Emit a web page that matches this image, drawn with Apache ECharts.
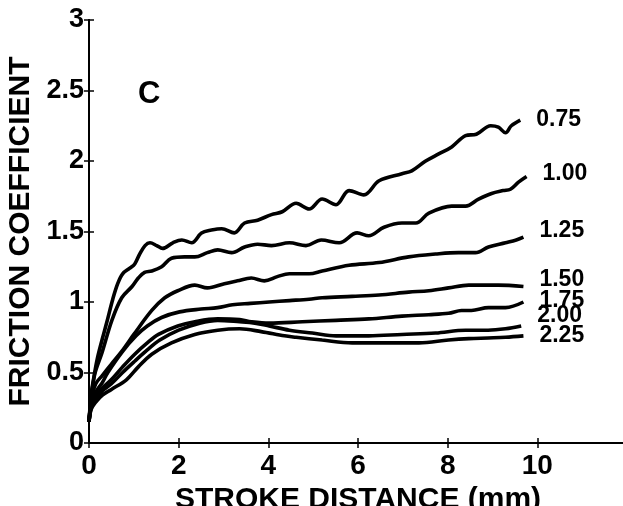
<!DOCTYPE html>
<html>
<head>
<meta charset="utf-8">
<script src="https://cdn.jsdelivr.net/npm/echarts@6/dist/echarts.min.js"></script>
<style>html,body{margin:0;padding:0;background:#fff}#c{width:623px;height:506px}</style>
</head>
<body>
<div id="c"></div>
<script>
// ---- data ----
var seriesNames = ['0.75', '1.00', '1.25', '1.50', '1.75', '2.00', '2.25'];
var xTicks = [0, 2, 4, 6, 8, 10];
var yTicks = [0, 0.5, 1, 1.5, 2, 2.5, 3];

var s075 = [[0,0.15],[0.05,0.35],[0.1,0.45],[0.18,0.59],[0.29,0.73],[0.4,0.86],[0.53,1.02],[0.64,1.13],[0.75,1.2],[0.91,1.24],[1.02,1.27],[1.13,1.34],[1.25,1.40],[1.36,1.42],[1.51,1.40],[1.64,1.38],[1.87,1.42],[2.07,1.44],[2.29,1.42],[2.51,1.49],[2.73,1.51],[2.96,1.52],[3.24,1.49],[3.47,1.56],[3.76,1.58],[4.07,1.62],[4.31,1.64],[4.62,1.70],[4.91,1.66],[5.2,1.73],[5.51,1.69],[5.8,1.79],[6.13,1.76],[6.47,1.86],[6.98,1.91],[7.2,1.93],[7.51,2.0],[7.8,2.05],[8.09,2.10],[8.4,2.18],[8.64,2.19],[8.96,2.25],[9.13,2.24],[9.29,2.20],[9.42,2.25],[9.62,2.29]];
var s100 = [[0,0.15],[0.05,0.32],[0.13,0.49],[0.29,0.64],[0.51,0.87],[0.73,1.03],[0.96,1.11],[1.1,1.17],[1.24,1.21],[1.4,1.22],[1.62,1.25],[1.84,1.31],[2.13,1.32],[2.36,1.32],[2.64,1.35],[2.87,1.37],[3.18,1.35],[3.47,1.39],[3.76,1.41],[4.07,1.40],[4.47,1.42],[4.84,1.40],[5.18,1.44],[5.58,1.42],[5.98,1.49],[6.24,1.47],[6.58,1.53],[6.98,1.56],[7.29,1.56],[7.58,1.63],[8.09,1.68],[8.4,1.68],[8.69,1.73],[8.98,1.77],[9.24,1.79],[9.4,1.80],[9.58,1.85],[9.76,1.89]];
var s125 = [[0,0.15],[0.05,0.3],[0.15,0.42],[0.3,0.48],[0.5,0.56],[0.73,0.65],[1.0,0.77],[1.4,0.94],[1.69,1.03],[1.98,1.08],[2.36,1.12],[2.64,1.10],[3.02,1.13],[3.31,1.15],[3.62,1.17],[3.91,1.15],[4.2,1.18],[4.47,1.20],[4.91,1.20],[5.2,1.22],[5.8,1.26],[6.47,1.28],[7.13,1.32],[7.73,1.34],[8.24,1.35],[8.62,1.35],[8.91,1.39],[9.29,1.42],[9.53,1.44],[9.69,1.46]];
var s150 = [[0,0.15],[0.05,0.28],[0.15,0.36],[0.3,0.43],[0.42,0.5],[0.75,0.65],[1.05,0.76],[1.3,0.83],[1.62,0.89],[2.02,0.93],[2.5,0.95],[2.87,0.96],[3.2,0.98],[3.6,0.99],[4.02,1.00],[4.47,1.01],[4.91,1.02],[5.2,1.03],[5.87,1.04],[6.47,1.05],[7.13,1.07],[7.58,1.08],[8.02,1.10],[8.47,1.12],[8.69,1.12],[9.13,1.12],[9.69,1.11]];
var s175 = [[0,0.15],[0.05,0.26],[0.15,0.33],[0.3,0.39],[0.5,0.45],[0.75,0.54],[1.02,0.63],[1.3,0.71],[1.55,0.77],[1.98,0.83],[2.36,0.86],[2.87,0.88],[3.36,0.875],[3.62,0.86],[4.02,0.85],[4.76,0.86],[5.51,0.87],[6.24,0.88],[6.98,0.90],[7.58,0.91],[8.02,0.92],[8.31,0.94],[8.53,0.94],[8.91,0.96],[9.29,0.96],[9.69,1.0]];
var s200 = [[0,0.15],[0.05,0.25],[0.15,0.31],[0.3,0.37],[0.5,0.42],[0.75,0.5],[1.02,0.58],[1.3,0.66],[1.58,0.73],[2.0,0.80],[2.47,0.85],[2.87,0.87],[3.36,0.86],[3.7,0.85],[4.02,0.83],[4.47,0.80],[4.98,0.78],[5.51,0.76],[6.24,0.76],[6.98,0.77],[7.73,0.78],[8.4,0.80],[8.9,0.80],[9.29,0.81],[9.64,0.83]];
var s225 = [[0,0.15],[0.05,0.24],[0.15,0.29],[0.3,0.34],[0.5,0.38],[0.84,0.45],[1.1,0.54],[1.4,0.63],[1.84,0.71],[2.36,0.77],[2.87,0.80],[3.36,0.81],[3.84,0.79],[4.36,0.76],[4.62,0.75],[5.2,0.73],[5.87,0.71],[6.62,0.71],[7.36,0.71],[8.02,0.73],[8.47,0.74],[8.9,0.745],[9.29,0.75],[9.69,0.76]];
var seriesData = [s075, s100, s125, s150, s175, s200, s225];

// ---- style ----
var FONT = '"Liberation Sans", Arial, Helvetica, sans-serif';
var labelDy = [0, -3, -6, -7, -1, -10, 0];

var chart = echarts.init(document.getElementById('c'), null, {renderer: 'canvas'});
var axisLine = {show: true, lineStyle: {color: '#000', width: 2}};
var tickStyle = {show: true, inside: true, length: 5, lineStyle: {color: '#000', width: 1.5}};

var series = seriesNames.map(function (n, i) {
  return {
    name: n,
    type: 'line',
    data: seriesData[i],
    xAxisIndex: 0,
    yAxisIndex: 0,
    showSymbol: false,
    smooth: 0.35,
    clip: false,
    lineStyle: {color: '#000', width: 3.6},
    endLabel: {
      show: true,
      formatter: n,
      distance: 16,
      offset: [0, labelDy[i]],
      color: '#000',
      fontFamily: FONT,
      fontWeight: 'bold',
      fontSize: 23
    }
  };
});

chart.setOption({
  animation: false,
  backgroundColor: '#fff',
  title: {
    text: 'C', left: 133, top: 74,
    textStyle: {fontFamily: FONT, fontWeight: 'bold', fontSize: 31, color: '#000'}
  },
  grid: {left: 89, top: 20, width: 538, height: 423, containLabel: false, outerBoundsMode: 'none'},
  xAxis: [{
    type: 'value', min: 0, max: 12, interval: 2, position: 'bottom',
    name: 'STROKE DISTANCE (mm)', nameLocation: 'middle', nameGap: 34,
    nameTextStyle: {fontFamily: FONT, fontWeight: 'bold', fontSize: 30, color: '#000'},
    axisLine: axisLine, axisTick: tickStyle, splitLine: {show: false},
    axisLabel: {
      color: '#000', fontFamily: FONT, fontWeight: 'bold', fontSize: 28, margin: 9,
      showMaxLabel: false,
      formatter: function (v) { return xTicks.indexOf(v) >= 0 ? String(v) : ''; }
    }
  }, {
    type: 'value', min: 0, max: 12, interval: 2, position: 'top',
    axisLine: axisLine, axisTick: tickStyle, splitLine: {show: false},
    axisLabel: {show: false}
  }],
  yAxis: [{
    type: 'value', min: 0, max: 3, interval: 0.5, position: 'left',
    name: 'FRICTION COEFFICIENT', nameLocation: 'middle', nameGap: 45,
    nameTextStyle: {fontFamily: FONT, fontWeight: 'bold', fontSize: 30, color: '#000'},
    axisLine: axisLine, axisTick: tickStyle, splitLine: {show: false},
    axisLabel: {
      color: '#000', fontFamily: FONT, fontWeight: 'bold', fontSize: 27, margin: 5,
      formatter: function (v) { return yTicks.indexOf(v) >= 0 ? String(v) : ''; }
    }
  }, {
    type: 'value', min: 0, max: 3, interval: 0.5, position: 'right',
    axisLine: axisLine, axisTick: tickStyle, splitLine: {show: false},
    axisLabel: {show: false}
  }],
  series: series
});
</script>
</body>
</html>
